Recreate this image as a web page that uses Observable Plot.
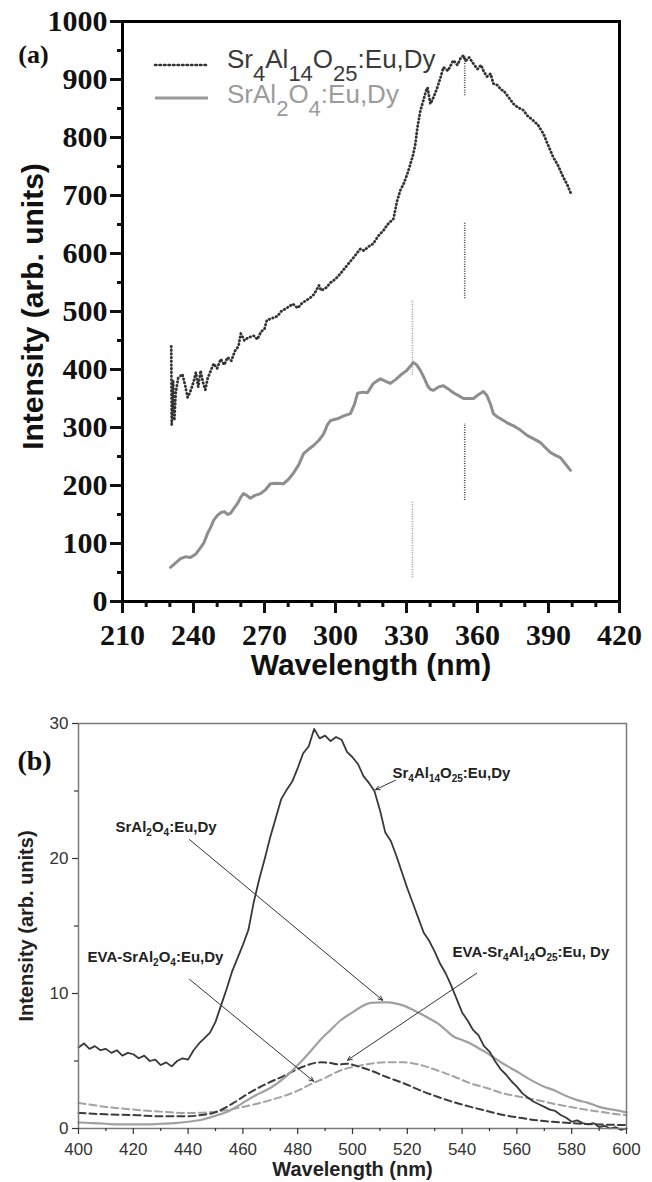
<!DOCTYPE html>
<html><head><meta charset="utf-8">
<script src="https://cdn.jsdelivr.net/npm/d3@7"></script>
<script src="https://cdn.jsdelivr.net/npm/@observablehq/plot@0.6"></script>
<style>
body{margin:0;background:#fff;}
#wrap{position:relative;width:652px;height:1182px;overflow:hidden;}
#a,#b{position:absolute;left:0;}
#a{top:0}
#b{top:690px}
</style></head><body><div id="wrap"><div id="a"></div><div id="b"></div></div>
<script>
// ---------- Panel (a) data: excitation spectra ----------
const sr4A = [[230.6,440],[230.8,305],[231.4,380],[231.9,312],[232.5,360],[233.5,385],[235.3,392],[236.5,372],[237.5,352],[238.5,360],[240,378],[241,395],[242,370],[243,398],[244,378],[245,365],[246,385],[247,395],[248.5,410],[250,402],[251.5,418],[253,408],[254.4,421],[256,415],[257.5,432],[259,440],[260,462],[261.5,450],[263,455],[265.5,458],[267,452],[268.5,465],[270,470],[271,485],[273,488],[275.5,492],[277,500],[279,505],[282,513],[284,506],[286,515],[288,520],[289.4,524],[291,530],[293,545],[294,536],[296,541],[298,550],[300,556],[302,565],[304.2,576],[306,585],[308,595],[310.5,608],[312,605],[314,612],[316,617],[318,630],[320.3,640],[322,650],[324.5,660],[326,690],[327.4,709],[329,722],[330.4,738],[331.5,752],[332.9,772],[333.8,790],[334.6,817],[335.9,847],[337,862],[338.2,880],[338.9,886],[340.1,858],[341.5,870],[343,886],[344.5,905],[345.6,921],[347.5,915],[349.8,933],[351.5,925],[353,938],[354,941],[355,932],[356.5,938],[358.3,927],[360,918],[361.5,925],[362.5,915],[364,905],[365.5,910],[366.7,893],[368.5,890],[370,882],[371,881],[373,870],[375.2,858],[377,852],[379.4,847],[381,838],[383.6,829],[385.5,822],[387.9,806],[389.5,790],[392,766],[394,752],[396.3,731],[398,718],[399.3,705]];
const srAl2O4A = [[230.3,59],[232,65],[234.5,74],[236.5,77],[238.7,76],[241,82],[243,93],[244.5,102],[245.9,117],[247.5,130],[248.5,140],[250,148],[251.4,153],[253,155],[254.5,150],[255.6,152],[257,160],[258.6,169],[260,180],[261.1,186],[262.5,183],[264,178],[266,183],[268.3,186],[270.5,193],[272.5,203],[275,204],[278,203],[280,210],[282.2,221],[284.5,236],[286.5,255],[288.5,262],[290.7,269],[293,278],[295,289],[296.6,305],[297.9,312],[300.8,315],[303.5,320],[306.3,324],[308,340],[309.3,359],[311.5,361],[313.5,360],[316,376],[317.5,380],[319,384],[321,380],[323.2,376],[325.5,383],[327.4,390],[330,398],[331.5,405],[332.9,412],[334.3,408],[335.9,398],[337.5,385],[338.9,372],[340,366],[341.4,364],[343.5,370],[345.6,372],[347.5,367],[349.8,360],[352,355],[354.1,350],[356,350],[358.3,350],[360.5,357],[362.5,362],[364,355],[365.5,340],[366.7,324],[368.5,318],[371,312],[373,307],[375.2,303],[378,296],[381.1,286],[384,280],[386.6,274],[388.5,266],[390.8,257],[393,252],[395,248],[397,238],[399.3,226]];
// vertical dotted peak markers (wavelength, from, to, series)
const markersA = [
  {x:332.5, y1:41,  y2:171, s:"SrAl2O4"},
  {x:332.5, y1:390, y2:519, s:"SrAl2O4"},
  {x:354.6, y1:174, y2:307, s:"Sr4Al14O25"},
  {x:354.6, y1:522, y2:652, s:"Sr4Al14O25"},
  {x:354.6, y1:872, y2:941, s:"Sr4Al14O25"}
];
const xTicksA = [210,240,270,300,330,360,390,420];
const xMinorA = [220,230,250,260,280,290,310,320,340,350,370,380,400,410];
const yTicksA = [0,100,200,300,400,500,600,700,800,900,1000];
const yMinorA = [50,150,250,350,450,550,650,750,850,950];
const legendA = [
  {label:"Sr₄Al₁₄O₂₅:Eu,Dy", line:"#333", text:"#3a3a3a", dash:"1.5,3"},
  {label:"SrAl₂O₄:Eu,Dy", line:"#999", text:"#9c9c9c", dash:null}
];

// ---------- Panel (b) data: emission spectra ----------
const emWl = [400,402,404,406,408,410,412,414,416,418,420,422,424,426,428,430,432,434,436,438,440,442,444,446,448,450,452,454,456,458,460,462,464,466,468,470,472,474,476,478,480,482,484,486,488,490,492,494,496,498,500,502,504,506,508,510,512,514,516,518,520,522,524,526,528,530,532,534,536,538,540,542,544,546,548,550,552,554,556,558,560,562,564,566,568,570,572,574,576,578,580,582,584,586,588,590,592,594,596,598,600];
const sr4Em = [6.0,6.3,5.9,6.1,5.8,5.9,5.6,5.8,5.4,5.6,5.5,5.2,5.4,5.0,5.1,4.7,4.9,4.6,5.0,5.2,5.1,5.8,6.3,6.7,7.1,7.9,9.1,10.3,11.6,12.6,13.6,14.7,16.8,18.5,20.0,21.6,23.0,24.4,25.1,25.7,26.7,27.8,28.3,29.6,28.9,29.1,28.7,29.0,28.8,27.9,27.5,27.0,26.1,25.6,25.0,23.6,21.9,21.3,20.2,19.0,17.8,16.7,15.6,14.5,13.9,13.1,12.2,11.5,10.6,9.6,8.6,8.0,7.3,6.9,6.1,5.7,5.0,4.4,4.0,3.5,3.1,2.6,2.3,2.0,1.8,1.6,1.4,1.3,1.0,0.8,0.5,0.6,0.4,0.3,0.4,0.1,0.2,0.0,0.1,-0.1,0.0];
const srAl2O4Em = [[400,0.45],[405,0.4],[410,0.35],[415,0.3],[420,0.3],[425,0.3],[430,0.35],[435,0.4],[440,0.5],[445,0.65],[450,0.95],[455,1.3],[460,1.9],[465,2.5],[470,3.0],[476,3.9],[481,4.9],[485,5.8],[488,6.5],[492,7.3],[495.6,8.0],[500,8.6],[503,9.0],[506.6,9.3],[510,9.35],[513,9.35],[516,9.25],[518.7,9.1],[522,8.8],[524.8,8.5],[528,8.15],[531,7.8],[534,7.3],[537,6.8],[540,6.55],[543,6.3],[546,5.95],[549,5.6],[552,5.2],[555,4.8],[558,4.45],[561,4.1],[565,3.6],[570,3.1],[573.4,2.85],[578,2.4],[582,2.1],[586,1.9],[590,1.6],[595,1.4],[600,1.2]];
const evaSrAl2O4Em = [[400,1.9],[410,1.6],[420,1.4],[430,1.25],[440,1.15],[450,1.25],[460,1.6],[470,2.1],[480,2.8],[485,3.3],[490,3.75],[495.6,4.3],[500,4.55],[506.6,4.8],[512,4.9],[518.7,4.9],[525,4.7],[531,4.3],[537,3.85],[543,3.35],[549,3.0],[555,2.6],[561,2.35],[567.5,2.1],[573,1.85],[579.6,1.6],[585,1.4],[590,1.25],[595,1.1],[600,1.0]];
const evaSr4Em = [[400,1.15],[410,1.05],[420,1.0],[430,0.9],[440,0.9],[445,1.0],[450,1.2],[456.6,1.9],[462,2.6],[469,3.35],[475,3.9],[481,4.5],[488.3,4.9],[492,4.85],[495,4.75],[498.2,4.8],[502,4.6],[506.6,4.3],[512,3.85],[518.7,3.35],[525,2.8],[531,2.35],[537,1.95],[543.1,1.6],[549,1.3],[555.1,1.0],[561,0.8],[567.5,0.6],[573,0.5],[579.6,0.4],[590,0.3],[600,0.25]];
const labelsB = [
  {x:514.6, y:26.35, t:"Sr₄Al₁₄O₂₅:Eu,Dy"},
  {x:413.5, y:22.3,  t:"SrAl₂O₄:Eu,Dy"},
  {x:403.3, y:12.7,  t:"EVA-SrAl₂O₄:Eu,Dy"},
  {x:536.5, y:13.05, t:"EVA-Sr₄Al₁₄O₂₅:Eu, Dy"}
];
const arrowsB = [
  {x1:515.7, y1:25.8,  x2:508.4, y2:25.1},
  {x1:440.5, y1:21.4,  x2:511.0, y2:9.5},
  {x1:440.5, y1:11.05, x2:485.8, y2:3.5},
  {x1:545.3, y1:11.5,  x2:498.2, y2:5.06}
];
const xTicksB = [400,420,440,460,480,500,520,540,560,580,600];
const xMinorB = [410,430,450,470,490,510,530,550,570,590];
const yTicksB = [0,10,20,30];
const yMinorB = [5,15,25];

// ---------- helpers ----------
const SUB = "₀₁₂₃₄₅₆₇₈₉";
function subscriptify(root, subSize, shift) {
  root.querySelectorAll("text").forEach(t => {
    const s = t.textContent;
    if (![...s].some(c => SUB.includes(c))) return;
    t.textContent = "";
    const parts = s.match(/[₀-₉]+|[^₀-₉]+/g);
    let shifted = false;
    for (const p of parts) {
      const ts = document.createElementNS("http://www.w3.org/2000/svg", "tspan");
      if (SUB.includes(p[0])) {
        ts.textContent = [...p].map(c => SUB.indexOf(c)).join("");
        ts.setAttribute("font-size", subSize);
        ts.setAttribute("dy", shift);
        shifted = true;
      } else {
        ts.textContent = p;
        if (shifted) { ts.setAttribute("dy", -shift); shifted = false; }
      }
      t.appendChild(ts);
    }
  });
}
const SANS = "Liberation Sans, Arial, sans-serif";
const SERIF = "Liberation Serif, Times New Roman, serif";

// ---------- Panel (a) ----------
const A1 = sr4A.map(([x,y]) => ({x,y}));
const A2 = srAl2O4A.map(([x,y]) => ({x,y}));
const plotA = Plot.plot({
  width: 652, height: 690,
  marginLeft: 122, marginRight: 33, marginTop: 21, marginBottom: 89,
  style: {background: "transparent", color: "#111", overflow: "visible"},
  x: {domain: [210, 420], label: null},
  y: {domain: [0, 1000], label: null},
  marks: [
    Plot.ruleX(markersA, {x: "x", y1: "y1", y2: "y2", stroke: d => d.s === "SrAl2O4" ? "#9a9a9a" : "#444", strokeWidth: 1.6, strokeDasharray: "1,1.4"}),
    Plot.line(A2, {x: "x", y: "y", stroke: "#8e8e8e", strokeWidth: 3}),
    Plot.line(A1, {x: "x", y: "y", stroke: "#333", strokeWidth: 2.8, strokeDasharray: "0.5,3.2", strokeLinecap: "round"}),
    Plot.frame({stroke: "#000", strokeWidth: 3}),
    Plot.axisY(yTicksA, {tickSize: 12, tickPadding: 3, tickFormat: d => String(d), fontFamily: SERIF, fontWeight: "bold", fontSize: 30, strokeWidth: 3}),
    Plot.axisY(yMinorA, {tickSize: 5, tickFormat: () => "", strokeWidth: 3}),
    Plot.axisX(xTicksA, {tickSize: 12, tickPadding: 10, tickFormat: d => String(d), fontFamily: SERIF, fontWeight: "bold", fontSize: 30, strokeWidth: 3}),
    Plot.axisX(xMinorA, {tickSize: 6, tickFormat: () => "", strokeWidth: 3}),
    Plot.text(["Wavelength (nm)"], {frameAnchor: "bottom", textAnchor: "middle", lineAnchor: "middle", dy: 64, fontSize: 30, fontWeight: "bold", fontFamily: SANS, fill: "#111"}),
    Plot.text(["Intensity (arb. units)"], {frameAnchor: "left", rotate: -90, textAnchor: "middle", lineAnchor: "middle", dx: -89, dy: -5, fontSize: 30, fontWeight: "bold", fontFamily: SANS, fill: "#111"}),
    Plot.text(["(a)"], {frameAnchor: "top-left", textAnchor: "middle", lineAnchor: "middle", dx: -89, dy: 33, fontSize: 26, fontWeight: "bold", fontFamily: SERIF, fill: "#111"})
  ]
});
document.getElementById("a").appendChild(plotA);

// legend overlay for panel (a)
const leg = d3.select("#wrap").append("svg")
  .attr("width", 652).attr("height", 130)
  .style("position", "absolute").style("left", "0px").style("top", "0px");
legendA.forEach((d, i) => {
  const yl = 65 + i * 33;
  leg.append("line").attr("x1", 155).attr("x2", 208).attr("y1", yl).attr("y2", yl)
    .attr("stroke", d.line).attr("stroke-width", d.dash ? 2.6 : 3)
    .attr("stroke-dasharray", d.dash).attr("stroke-linecap", d.dash ? "round" : "butt");
  leg.append("text").attr("x", 227).attr("y", 68 + i * 35)
    .attr("font-family", SANS).attr("font-size", 26).attr("fill", d.text)
    .text(d.label);
});
subscriptify(leg.node(), 22, 13);

// ---------- Panel (b) ----------
const B1 = emWl.map((x, i) => ({x, y: sr4Em[i]}));
const B2 = srAl2O4Em.map(([x,y]) => ({x,y}));
const B3 = evaSrAl2O4Em.map(([x,y]) => ({x,y}));
const B4 = evaSr4Em.map(([x,y]) => ({x,y}));
const plotB = Plot.plot({
  width: 652, height: 492,
  marginLeft: 78, marginRight: 26, marginTop: 33, marginBottom: 54,
  style: {background: "transparent", color: "#333", overflow: "visible"},
  x: {domain: [400, 600], label: null},
  y: {domain: [0, 30], label: null},
  marks: [
    Plot.line(B3, {x: "x", y: "y", stroke: "#a3a3a3", strokeWidth: 2, strokeDasharray: "7,4", curve: "monotone-x"}),
    Plot.line(B4, {x: "x", y: "y", stroke: "#3c3c3c", strokeWidth: 2, strokeDasharray: "7,4", curve: "monotone-x"}),
    Plot.line(B2, {x: "x", y: "y", stroke: "#a0a0a0", strokeWidth: 2.2, curve: "monotone-x"}),
    Plot.line(B1, {x: "x", y: "y", stroke: "#383838", strokeWidth: 1.8}),
    Plot.arrow(arrowsB, {x1: "x1", y1: "y1", x2: "x2", y2: "y2", stroke: "#333", strokeWidth: 1, headLength: 7, headAngle: 50}),
    Plot.text(labelsB, {x: "x", y: "y", text: "t", textAnchor: "start", lineAnchor: "middle", fontSize: 15, fontWeight: "bold", fontFamily: SANS, fill: "#222"}),
    Plot.frame({stroke: "#7a7a7a", strokeWidth: 1.5}),
    Plot.axisY(yTicksB, {tickSize: 6, tickPadding: 4, tickFormat: d => String(d), fontFamily: SANS, fontSize: 17, strokeWidth: 1.2}),
    Plot.axisY(yMinorB, {tickSize: 4, tickFormat: () => "", strokeWidth: 1.2}),
    Plot.axisX(xTicksB, {tickSize: 6, tickPadding: 8, tickFormat: d => String(d), fontFamily: SANS, fontSize: 17, strokeWidth: 1.2}),
    Plot.axisX(xMinorB, {tickSize: 3, tickFormat: () => "", strokeWidth: 1.2}),
    Plot.text(["Wavelength (nm)"], {frameAnchor: "bottom", textAnchor: "middle", lineAnchor: "middle", dy: 41, fontSize: 20, fontWeight: "bold", fontFamily: SANS, fill: "#222"}),
    Plot.text(["Intensity (arb. units)"], {frameAnchor: "left", rotate: -90, textAnchor: "middle", lineAnchor: "middle", dx: -52, fontSize: 20, fontWeight: "bold", fontFamily: SANS, fill: "#222"}),
    Plot.text(["(b)"], {frameAnchor: "top-left", textAnchor: "middle", lineAnchor: "middle", dx: -44, dy: 38, fontSize: 28, fontWeight: "bold", fontFamily: SERIF, fill: "#111"})
  ]
});
subscriptify(plotB, 10, 4);
document.getElementById("b").appendChild(plotB);
</script>
</body></html>
